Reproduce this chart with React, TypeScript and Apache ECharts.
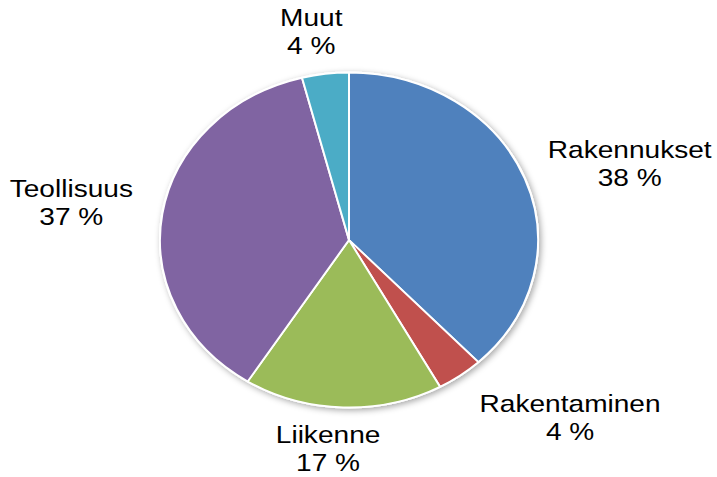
import React, { useEffect, useRef } from "react";
import * as echarts from "echarts";

// ---- data ----
const categories = ["Rakennukset", "Rakentaminen", "Liikenne", "Teollisuus", "Muut"];
const shares = [38, 4, 17, 37, 4];
const sliceColors = ["#4F81BD", "#C0504D", "#9BBB59", "#8064A2", "#4BACC6"];

// ---- layout ----
const CX = 349;
const CY = 240;
const RX = 189;
const RY = 167.5;
// label centre relative to the rim point at each slice's mid-angle
const labelShift: [number, number][] = [
  [105, -15],
  [110, 42],
  [-15, 41],
  [-91, -11],
  [-14, -42],
];

export default function App() {
  const ref = useRef<HTMLDivElement>(null);

  useEffect(() => {
    document.body.style.margin = "0";
    if (!ref.current) return;
    const chart = echarts.init(ref.current, null, { renderer: "svg" });
    const total = shares.reduce((a, b) => a + b, 0);

    const renderItem = (params: any, api: any) => {
      const i = params.dataIndex;
      const v = api.value(0);
      let before = 0;
      for (let k = 0; k < i; k++) before += shares[k];
      const a0 = (before / total) * Math.PI * 2;
      const a1 = ((before + v) / total) * Math.PI * 2;
      const mid = (a0 + a1) / 2;
      const rimX = CX + RX * Math.sin(mid);
      const rimY = CY - RY * Math.cos(mid);
      const pct = Math.round((v / total) * 100);
      const children: any[] = [];
      if (i === 0) {
        children.push({
          type: "ellipse",
          shape: { cx: CX, cy: CY, rx: RX + 1, ry: RY + 1 },
          style: {
            fill: "#ffffff",
            shadowBlur: 6,
            shadowColor: "rgba(0,0,0,0.35)",
            shadowOffsetX: 2,
            shadowOffsetY: 2,
          },
          z2: 0,
        });
      }
      children.push({
        type: "sector",
        x: CX,
        y: CY,
        scaleY: RY / RX,
        shape: {
          cx: 0,
          cy: 0,
          r0: 0,
          r: RX,
          startAngle: a0 - Math.PI / 2,
          endAngle: a1 - Math.PI / 2,
          clockwise: true,
        },
        style: {
          fill: sliceColors[i],
          stroke: "#ffffff",
          lineWidth: 2,
          lineJoin: "round",
        },
        z2: 1,
      });
      children.push({
        type: "text",
        x: rimX + labelShift[i][0],
        y: rimY + labelShift[i][1],
        scaleX: 1.17,
        style: {
          text: categories[i] + "\n" + pct + " %",
          fill: "#000000",
          font: '24px "Liberation Sans", Arial, sans-serif',
          align: "center",
          verticalAlign: "middle",
          lineHeight: 28,
        },
        z2: 2,
      });
      return { type: "group", children };
    };

    chart.setOption({
      animation: false,
      backgroundColor: "#ffffff",
      series: [
        {
          type: "custom",
          coordinateSystem: "none",
          renderItem,
          data: shares.map((v, i) => ({ name: categories[i], value: [v] })),
          silent: true,
        },
      ],
    });
    return () => chart.dispose();
  }, []);

  return <div ref={ref} style={{ width: 717, height: 477 }} />;
}
